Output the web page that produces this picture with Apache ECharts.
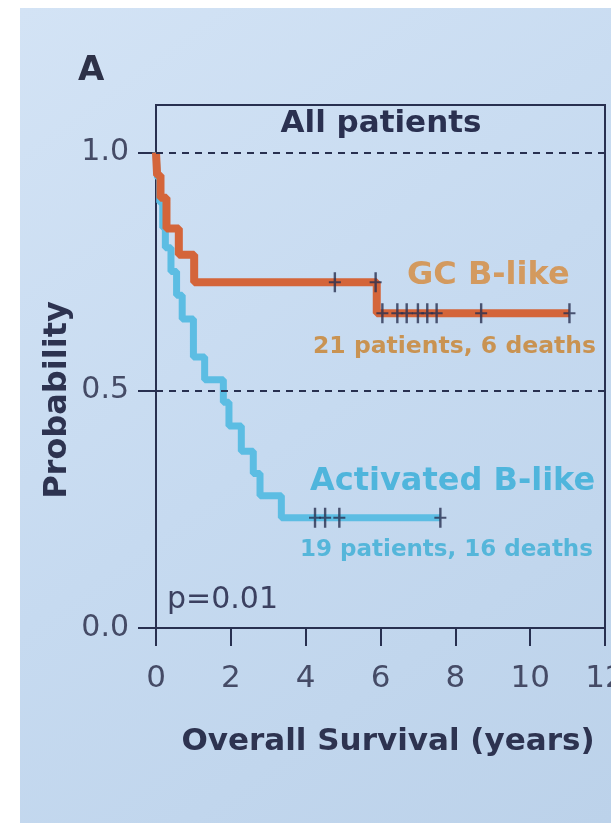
<!DOCTYPE html>
<html>
<head>
<meta charset="utf-8">
<script src="https://cdn.jsdelivr.net/npm/echarts@6/dist/echarts.min.js"></script>
<style>
html,body{margin:0;padding:0;background:#ffffff;}
#chart{width:611px;height:832px;}
</style>
</head>
<body>
<div id="chart"></div>
<script>
// ---- data ----
var xTicks = [0, 2, 4, 6, 8, 10, 12];
var yTicks = [0, 0.5, 1.0];
var gcTimes = [0, 0.03, 0.12, 0.28, 0.61, 1.02, 5.9, 11.05];
var gcSurv  = [1.0, 0.952, 0.905, 0.84, 0.785, 0.727, 0.662, 0.662];
var gcCensorTimes = [4.78, 5.87, 6.05, 6.45, 6.7, 7.0, 7.25, 7.5, 8.69, 11.05];
var gcCensorSurv  = [0.727, 0.727, 0.662, 0.662, 0.662, 0.662, 0.662, 0.662, 0.662, 0.662];
var abTimes = [0, 0.04, 0.1, 0.18, 0.25, 0.4, 0.55, 0.7, 1.0, 1.3, 1.8, 1.95, 2.28, 2.6, 2.78, 3.35, 7.6];
var abSurv  = [1.0, 0.947, 0.895, 0.842, 0.80, 0.75, 0.70, 0.65, 0.57, 0.522, 0.475, 0.425, 0.372, 0.325, 0.278, 0.232, 0.232];
var abCensorTimes = [4.25, 4.52, 4.9, 7.6];
var abCensorSurv  = [0.232, 0.232, 0.232, 0.232];
var refLines = [1.0, 0.5];

var NAVY = '#283050';
var FONT = 'DejaVu Sans';
function zip(a, b) { return a.map(function (v, i) { return [v, b[i]]; }); }
var plusSymbol = 'path://M4,0h2v20h-2z M0,9h10v2h-10z';

var chart = echarts.init(document.getElementById('chart'), null, {renderer: 'canvas'});
chart.setOption({
  animation: false,
  backgroundColor: '#ffffff',
  grid: {left: 156, right: 6, top: 105, bottom: 204, show: true, borderColor: NAVY, borderWidth: 2,
    backgroundColor: 'transparent', containLabel: false, outerBoundsMode: 'none'},
  xAxis: {
    type: 'value', min: 0, max: 12, interval: 2,
    axisLine: {show: true, onZero: false, lineStyle: {color: NAVY, width: 2}},
    axisTick: {show: true, length: 18, lineStyle: {color: NAVY, width: 2}},
    axisLabel: {fontSize: 31, color: '#454b66', fontFamily: FONT, margin: 35, alignMaxLabel: 'center', alignMinLabel: 'center',
      formatter: function (v) { return xTicks.indexOf(v) >= 0 ? String(v) : ''; }},
    splitLine: {show: false}
  },
  yAxis: {
    type: 'value', min: 0, max: 1.1, interval: 0.5,
    axisLine: {show: true, onZero: false, lineStyle: {color: NAVY, width: 2}},
    axisTick: {show: true, length: 18, customValues: yTicks, lineStyle: {color: NAVY, width: 2}},
    axisLabel: {fontSize: 30, color: '#454b66', fontFamily: FONT, margin: 27, customValues: yTicks,
      formatter: function (v) { return v.toFixed(1); }},
    splitLine: {show: false}
  },
  graphic: [
    {type: 'rect', z: -100, shape: {x: 20, y: 8, width: 591, height: 815},
      style: {fill: {type: 'linear', x: 0, y: 0, x2: 1, y2: 1, colorStops: [
        {offset: 0, color: '#d3e3f5'}, {offset: 0.5, color: '#c6daf0'}, {offset: 1, color: '#bcd2ea'}]}}},
    {type: 'text', left: 78, top: 54, style: {text: 'A', font: 'bold 34px "DejaVu Sans"', fill: '#2d3148'}},
    {type: 'text', x: 381, y: 124, style: {text: 'All patients', font: 'bold 31px "DejaVu Sans"', fill: '#2a3050', textAlign: 'center', textVerticalAlign: 'middle'}},
    {type: 'text', x: 407, y: 276, style: {text: 'GC B-like', font: 'bold 32px "DejaVu Sans"', fill: '#d39a5f', textAlign: 'left', textVerticalAlign: 'middle'}},
    {type: 'text', x: 313, y: 347, style: {text: '21 patients, 6 deaths', font: 'bold 23.5px "DejaVu Sans"', fill: '#c99352', textAlign: 'left', textVerticalAlign: 'middle'}},
    {type: 'text', x: 310, y: 482, style: {text: 'Activated B-like', font: 'bold 32px "DejaVu Sans"', fill: '#4fb5dc', textAlign: 'left', textVerticalAlign: 'middle'}},
    {type: 'text', x: 300, y: 550, style: {text: '19 patients, 16 deaths', font: 'bold 23px "DejaVu Sans"', fill: '#55b6da', textAlign: 'left', textVerticalAlign: 'middle'}},
    {type: 'text', x: 167, y: 600, style: {text: 'p=0.01', font: '30px "DejaVu Sans"', fill: '#3b4060', textAlign: 'left', textVerticalAlign: 'middle'}},
    {type: 'text', x: 388, y: 742, style: {text: 'Overall Survival (years)', font: 'bold 31px "DejaVu Sans"', fill: '#2d3350', textAlign: 'center', textVerticalAlign: 'middle'}},
    {type: 'text', x: 58, y: 400, rotation: Math.PI / 2, style: {text: 'Probability', font: 'bold 32px "DejaVu Sans"', fill: '#2d3350', textAlign: 'center', textVerticalAlign: 'middle'}}
  ],
  series: [
    {
      name: 'Activated B-like', type: 'line', step: 'end', data: zip(abTimes, abSurv),
      showSymbol: false, lineStyle: {color: '#5cbde3', width: 7}, z: 3,
      markLine: {silent: true, symbol: 'none', label: {show: false},
        lineStyle: {color: NAVY, width: 2, type: [7, 6]},
        data: refLines.map(function (v) { return {yAxis: v}; })}
    },
    {
      name: 'GC B-like', type: 'line', step: 'end', data: zip(gcTimes, gcSurv),
      showSymbol: false, lineStyle: {color: '#d4653a', width: 8}, z: 4
    },
    {
      name: 'GC censored', type: 'scatter', data: zip(gcCensorTimes, gcCensorSurv),
      symbol: plusSymbol, symbolSize: [12, 20], symbolKeepAspect: false,
      itemStyle: {color: NAVY}, z: 6
    },
    {
      name: 'AB censored', type: 'scatter', data: zip(abCensorTimes, abCensorSurv),
      symbol: plusSymbol, symbolSize: [12, 20], symbolKeepAspect: false,
      itemStyle: {color: NAVY}, z: 6
    }
  ]
});
</script>
</body>
</html>
